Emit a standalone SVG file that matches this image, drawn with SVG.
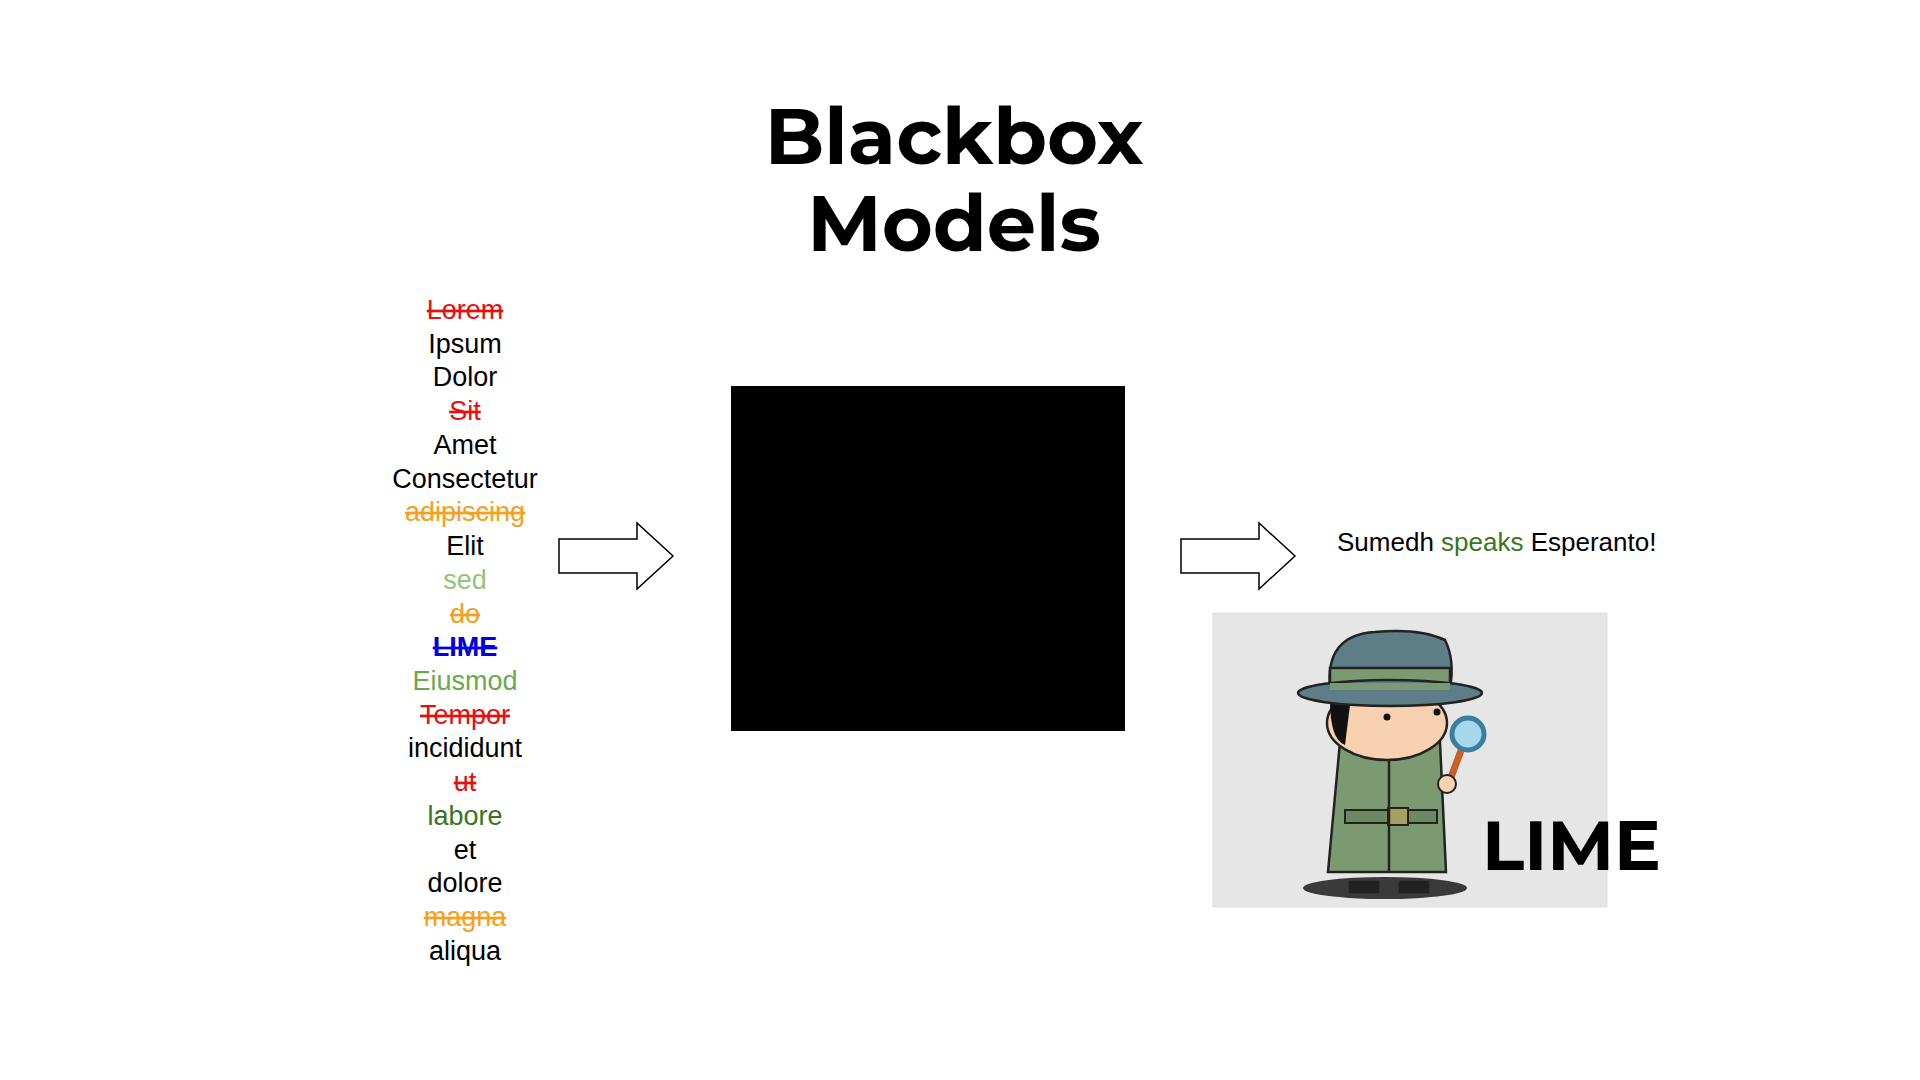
<svg xmlns="http://www.w3.org/2000/svg" width="1920" height="1080" viewBox="0 0 1920 1080">
<style>
.w{font-family:"Liberation Sans",Arial,sans-serif;font-size:27px;text-anchor:middle;fill:#000}
.s{text-decoration:line-through}
.r{fill:#e51010}.o{fill:#f5a020}.lg{fill:#93c47d}.g{fill:#6aa84f}.dg{fill:#38761d}.b{fill:#0000e0;font-weight:bold}
.t{font-family:Montserrat,Inter,"Open Sans",sans-serif;font-weight:700;fill:#000}
.arrow{fill:#fff;stroke:#000;stroke-width:1.5}
.ln{stroke:#222;stroke-width:2.5}
</style>
<rect width="1920" height="1080" fill="#fff"/>
<g id="title">
<text class="t" x="954" y="164" font-size="78" text-anchor="middle">Blackbox</text>
<text class="t" x="954" y="251" font-size="78" text-anchor="middle">Models</text>
</g>
<g id="words">
<text class="w r s" x="465" y="319">Lorem</text>
<text class="w" x="465" y="353">Ipsum</text>
<text class="w" x="465" y="386">Dolor</text>
<text class="w r s" x="465" y="420">Sit</text>
<text class="w" x="465" y="454">Amet</text>
<text class="w" x="465" y="488">Consectetur</text>
<text class="w o s" x="465" y="521">adipiscing</text>
<text class="w" x="465" y="555">Elit</text>
<text class="w lg" x="465" y="589">sed</text>
<text class="w o s" x="465" y="623">do</text>
<text class="w b s" x="465" y="656">LIME</text>
<text class="w g" x="465" y="690">Eiusmod</text>
<text class="w r s" x="465" y="724">Tempor</text>
<text class="w" x="465" y="757">incididunt</text>
<text class="w r s" x="465" y="791">ut</text>
<text class="w dg" x="465" y="825">labore</text>
<text class="w" x="465" y="859">et</text>
<text class="w" x="465" y="892">dolore</text>
<text class="w o s" x="465" y="926">magna</text>
<text class="w" x="465" y="960">aliqua</text>
</g>
<g id="blackbox"><rect x="731" y="386" width="394" height="345" fill="#000"/></g>
<g id="connectors">
<polygon class="arrow" points="559,539 637,539 637,523 673,556 637,589 637,573 559,573"/>
<polygon class="arrow" points="1181,539 1259,539 1259,523 1295,556 1259,589 1259,573 1181,573"/>
</g>
<g id="output">
<text x="1337" y="551" font-family="Liberation Sans,Arial,sans-serif" font-size="26">Sumedh <tspan fill="#38761d">speaks</tspan> Esperanto!</text>
</g>
<g id="lime-image">
<rect x="1213" y="613" width="394" height="294" fill="#e6e6e6" stroke="#ddd"/>
<ellipse cx="1385" cy="888" rx="82" ry="11" fill="#3a3a3a"/>
<path class="ln" d="M1340,742 L1440,742 L1446,872 L1328,872 Z" fill="#7c9a72"/>
<rect class="ln" x="1350" y="882" width="28" height="10" fill="#222"/>
<rect class="ln" x="1400" y="882" width="28" height="10" fill="#222"/>
<rect x="1345" y="810" width="92" height="13" fill="#6b8a62" stroke="#222" stroke-width="2"/>
<rect x="1388" y="808" width="20" height="17" fill="#a8a060" stroke="#222" stroke-width="2"/>
<line class="ln" x1="1389" y1="745" x2="1389" y2="872"/>
<ellipse class="ln" cx="1387" cy="723" rx="60" ry="37" fill="#f8d1b0"/>
<path d="M1330,700 Q1330,740 1345,745 L1350,705 Z" fill="#111"/>
<circle cx="1387" cy="717" r="3.5" fill="#111"/><circle cx="1437" cy="712" r="3.5" fill="#111"/>
<line x1="1447" y1="788" x2="1462" y2="748" stroke="#c8622a" stroke-width="7" stroke-linecap="round"/>
<circle cx="1447" cy="784" r="9" fill="#f8d1b0" stroke="#222" stroke-width="2"/>
<circle cx="1468" cy="734" r="16" fill="#a8d8ec" stroke="#3a7fa0" stroke-width="5"/>
<path class="ln" d="M1330,688 Q1325,635 1375,632 Q1420,628 1445,640 Q1455,660 1450,688 Z" fill="#5f7d86"/>
<path class="ln" d="M1330,668 L1450,668 L1450,690 L1330,690 Z" fill="#7c9a72"/>
<ellipse class="ln" cx="1390" cy="693" rx="92" ry="13" fill="#5f7d86"/>
<path d="M1330,683 L1450,683 L1450,690 L1330,690 Z" fill="#7c9a72"/>
<text class="t" x="1482" y="870" font-size="70">LIME</text>
</g>
</svg>
